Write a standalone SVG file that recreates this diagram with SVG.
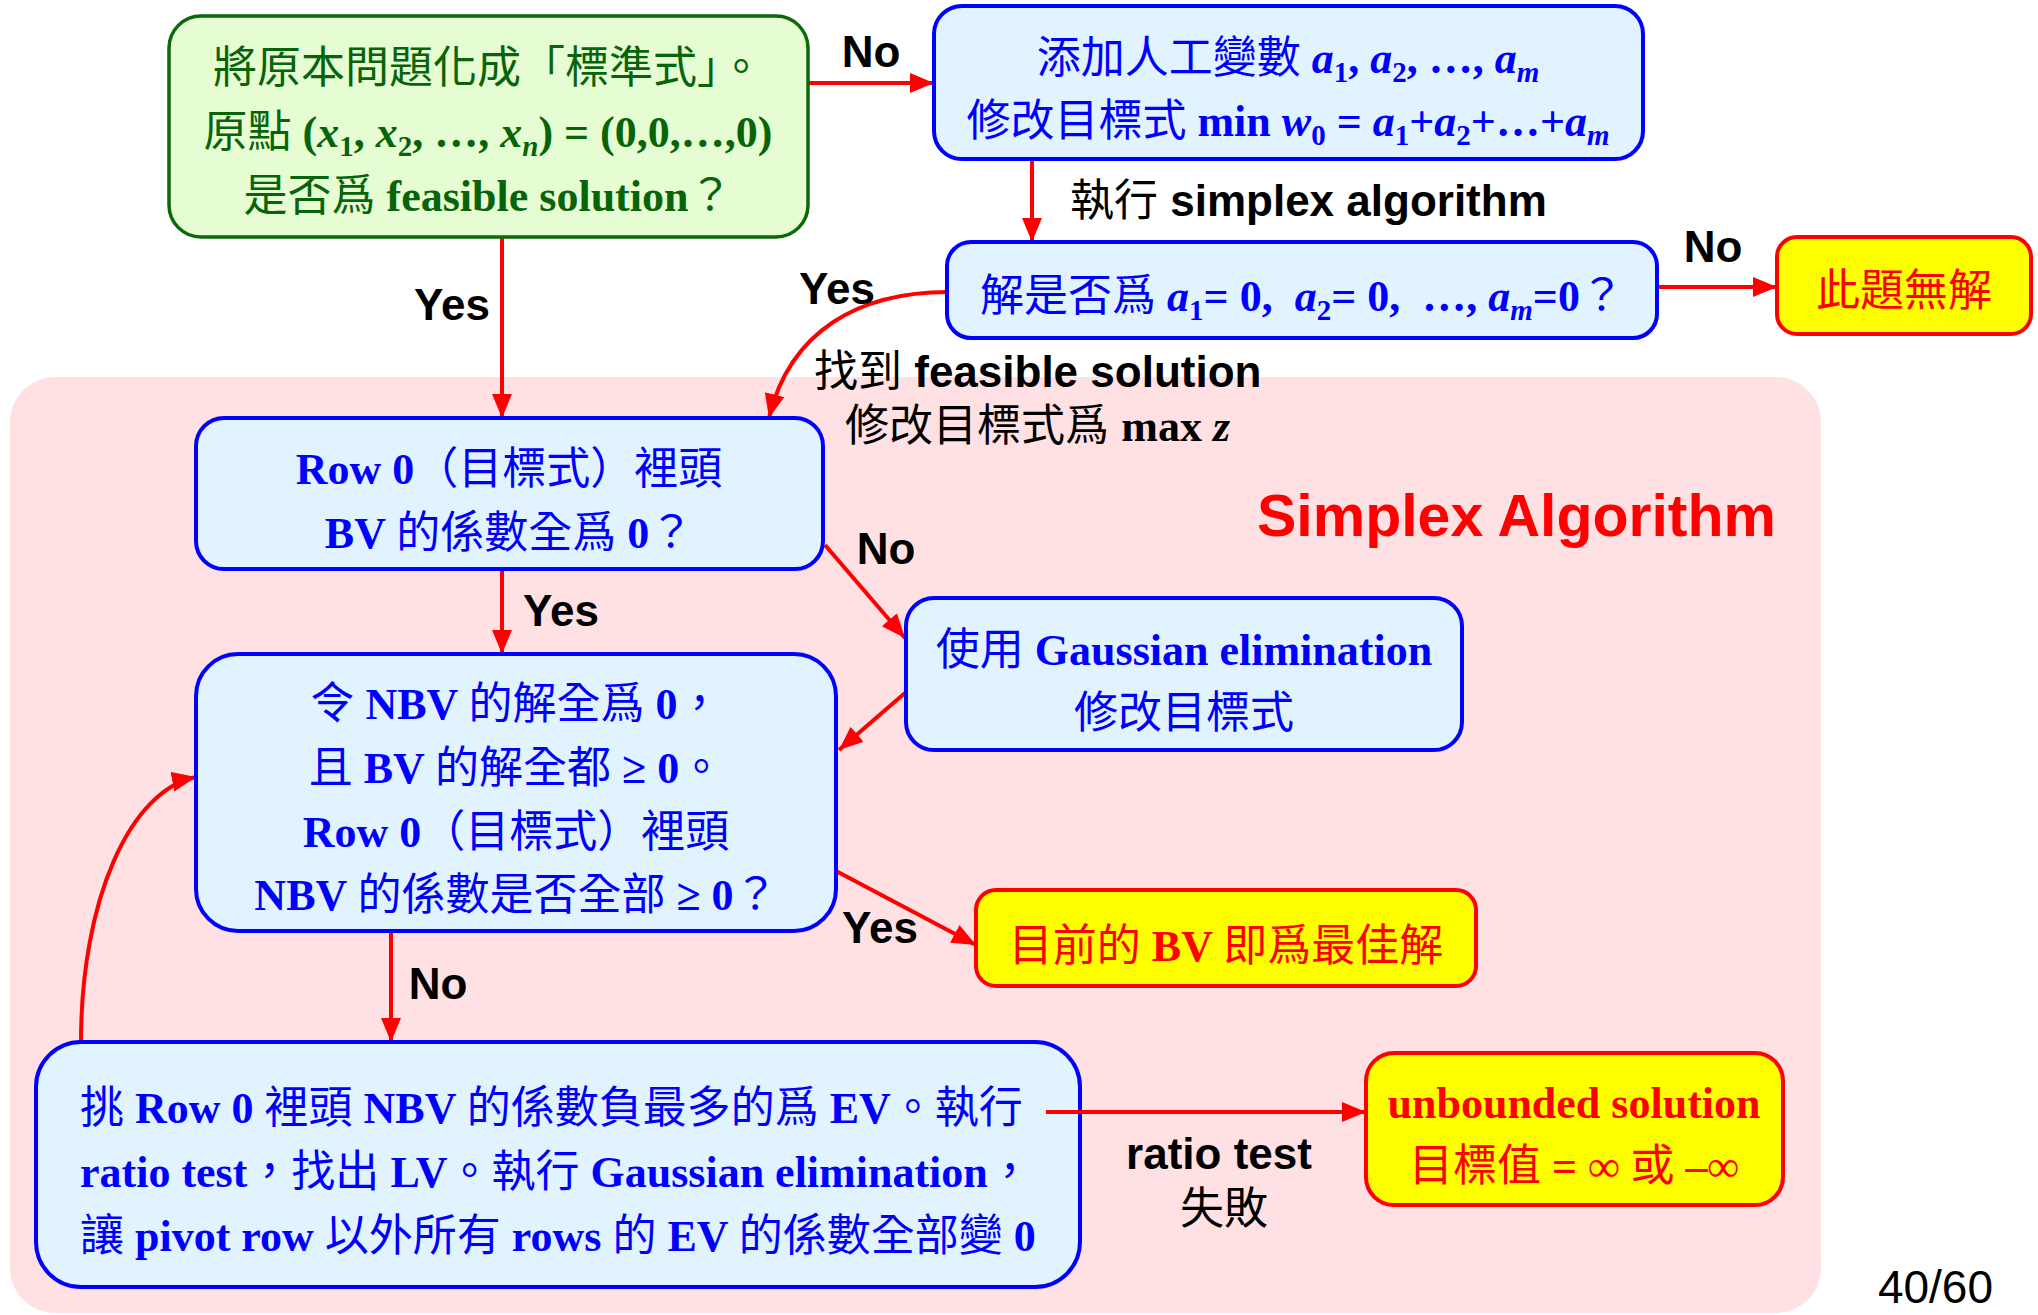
<svg xmlns="http://www.w3.org/2000/svg" width="2038" height="1315" viewBox="0 0 2038 1315">
<style>
  .bg { fill: #ffe1e4; }
  .gbox { fill: #e6fcd2; stroke: #0a6a0a; stroke-width: 3.5; }
  .bbox { fill: #e1f3ff; stroke: #0000ff; stroke-width: 4; }
  .ybox { fill: #ffff00; stroke: #ff0000; stroke-width: 4; }
  .t { font-family: "Liberation Serif", "Noto Sans CJK TC", serif; font-weight: bold; font-size: 44px; text-anchor: middle; }
  .tl { font-family: "Liberation Serif", "Noto Sans CJK TC", serif; font-weight: bold; font-size: 44px; }
  .green { fill: #086408; }
  .blue { fill: #0000ff; }
  .red { fill: #ff0000; }
  .c { font-family: "Noto Sans CJK TC", "Noto Sans CJK SC", sans-serif; font-weight: normal; }
  .i { font-style: italic; }
  .sub { font-size: 29px; }
  .lbl { font-family: "Liberation Sans", "Noto Sans CJK TC", sans-serif; font-weight: bold; font-size: 44px; fill: #000; }
  .lc { font-family: "Noto Sans CJK TC", sans-serif; font-weight: normal; }
  .conn path { fill: none; stroke: #ff0000; stroke-width: 4; marker-end: url(#arr); }
</style>
<defs>
  <marker id="arr" markerUnits="userSpaceOnUse" markerWidth="26" markerHeight="22" refX="24" refY="10" orient="auto">
    <path d="M0,0 L24,10 L0,20 z" fill="#ff0000"/>
  </marker>
</defs>
<rect width="2038" height="1315" fill="#ffffff"/>
<rect class="bg" x="10" y="377" width="1811" height="936" rx="45" ry="45"/>

<g id="connectors" class="conn">
  <path d="M808,83 H934"/>
  <path d="M1032,159 V242"/>
  <path d="M1657,287 H1777"/>
  <path d="M502,237 V418"/>
  <path d="M948,292 C860,292 790,330 769,418"/>
  <path d="M502,569 V654"/>
  <path d="M825,545 L905,638"/>
  <path d="M905,693 L839,750"/>
  <path d="M836,871 L976,945"/>
  <path d="M391,931 V1042"/>
  <path d="M81,1042 C81,900 130,790 196,777"/>
</g>

<g id="n_start">
  <rect class="gbox" x="169" y="16" width="639" height="221" rx="32"/>
  <text class="t green" x="488" y="83" font-size="46"><tspan class="c">將原本問題化成「標準式」。</tspan></text>
  <text class="t green" x="488" y="147"><tspan class="c">原點</tspan> (<tspan class="i">x</tspan><tspan class="sub" dy="9">1</tspan><tspan dy="-9">, </tspan><tspan class="i">x</tspan><tspan class="sub" dy="9">2</tspan><tspan dy="-9">, …, </tspan><tspan class="i">x</tspan><tspan class="sub i" dy="9">n</tspan><tspan dy="-9">) = (0,0,…,0)</tspan></text>
  <text class="t green" x="488" y="211"><tspan class="c">是否爲</tspan> feasible solution<tspan class="c">？</tspan></text>
</g>

<g id="n_artificial">
  <rect class="bbox" x="934" y="6" width="709" height="153" rx="28"/>
  <text class="t blue" x="1288" y="73"><tspan class="c">添加人工變數</tspan> <tspan class="i">a</tspan><tspan class="sub" dy="9">1</tspan><tspan dy="-9">, </tspan><tspan class="i">a</tspan><tspan class="sub" dy="9">2</tspan><tspan dy="-9">, …, </tspan><tspan class="i">a</tspan><tspan class="sub i" dy="9">m</tspan></text>
  <text class="t blue" x="1288" y="136"><tspan class="c">修改目標式</tspan> min <tspan class="i">w</tspan><tspan class="sub" dy="9">0</tspan><tspan dy="-9"> = </tspan><tspan class="i">a</tspan><tspan class="sub" dy="9">1</tspan><tspan dy="-9">+</tspan><tspan class="i">a</tspan><tspan class="sub" dy="9">2</tspan><tspan dy="-9">+…+</tspan><tspan class="i">a</tspan><tspan class="sub i" dy="9">m</tspan></text>
</g>

<g id="n_check">
  <rect class="bbox" x="947" y="242" width="710" height="96" rx="24"/>
  <text class="t blue" x="1302" y="311" xml:space="preserve"><tspan class="c">解是否爲</tspan> <tspan class="i">a</tspan><tspan class="sub" dy="9">1</tspan><tspan dy="-9">= 0,  </tspan><tspan class="i">a</tspan><tspan class="sub" dy="9">2</tspan><tspan dy="-9">= 0,  …, </tspan><tspan class="i">a</tspan><tspan class="sub i" dy="9">m</tspan><tspan dy="-9">=0</tspan><tspan class="c">？</tspan></text>
</g>

<g id="n_nosol">
  <rect class="ybox" x="1777" y="237" width="254" height="97" rx="20"/>
  <text class="t red" x="1904" y="306"><tspan class="c">此題無解</tspan></text>
</g>

<g id="n_row0">
  <rect class="bbox" x="196" y="418" width="627" height="151" rx="28"/>
  <text class="t blue" x="509" y="484">Row 0<tspan class="c">（目標式）裡頭</tspan></text>
  <text class="t blue" x="509" y="548">BV <tspan class="c">的係數全爲</tspan> 0<tspan class="c">？</tspan></text>
</g>

<g id="n_gauss">
  <rect class="bbox" x="906" y="598" width="556" height="152" rx="28"/>
  <text class="t blue" x="1184" y="665"><tspan class="c">使用</tspan> Gaussian elimination</text>
  <text class="t blue" x="1184" y="728"><tspan class="c">修改目標式</tspan></text>
</g>

<g id="n_optcheck">
  <rect class="bbox" x="196" y="654" width="640" height="277" rx="42"/>
  <text class="t blue" x="516" y="719"><tspan class="c">令</tspan> NBV <tspan class="c">的解全爲</tspan> 0<tspan class="c">，</tspan></text>
  <text class="t blue" x="516" y="783"><tspan class="c">且</tspan> BV <tspan class="c">的解全都</tspan> ≥ 0<tspan class="c">。</tspan></text>
  <text class="t blue" x="516" y="847">Row 0<tspan class="c">（目標式）裡頭</tspan></text>
  <text class="t blue" x="516" y="910">NBV <tspan class="c">的係數是否全部</tspan> ≥ 0<tspan class="c">？</tspan></text>
</g>

<g id="n_optimal">
  <rect class="ybox" x="976" y="890" width="500" height="96" rx="20"/>
  <text class="t red" x="1226" y="961"><tspan class="c">目前的</tspan> BV <tspan class="c">即爲最佳解</tspan></text>
</g>

<g id="n_pivot">
  <rect class="bbox" x="36" y="1042" width="1044" height="245" rx="45"/>
  <text class="tl blue" x="80" y="1123"><tspan class="c">挑</tspan> Row 0 <tspan class="c">裡頭</tspan> NBV <tspan class="c">的係數負最多的爲</tspan> EV<tspan class="c">。執行</tspan></text>
  <text class="tl blue" x="80" y="1187">ratio test<tspan class="c">，找出</tspan> LV<tspan class="c">。執行</tspan> Gaussian elimination<tspan class="c">，</tspan></text>
  <text class="tl blue" x="80" y="1251"><tspan class="c">讓</tspan> pivot row <tspan class="c">以外所有</tspan> rows <tspan class="c">的</tspan> EV <tspan class="c">的係數全部變</tspan> 0</text>
</g>

<g id="n_unbounded">
  <rect class="ybox" x="1366" y="1053" width="417" height="152" rx="28"/>
  <text class="t red" x="1574" y="1118">unbounded solution</text>
  <text class="t red" x="1574" y="1181"><tspan class="c">目標值</tspan> = ∞ <tspan class="c">或</tspan> –∞</text>
</g>

<g id="connector_top" class="conn">
  <path d="M1046,1112 H1366"/>
</g>

<g id="labels">
  <text class="lbl" x="871" y="67" text-anchor="middle">No</text>
  <text class="lbl" x="452" y="320" text-anchor="middle">Yes</text>
  <text class="lbl" x="837" y="304" text-anchor="middle">Yes</text>
  <text class="lbl" x="1713" y="262" text-anchor="middle">No</text>
  <text class="lbl" x="886" y="564" text-anchor="middle">No</text>
  <text class="lbl" x="561" y="626" text-anchor="middle">Yes</text>
  <text class="lbl" x="880" y="943" text-anchor="middle">Yes</text>
  <text class="lbl" x="438" y="999" text-anchor="middle">No</text>
  <text class="lbl" x="1070" y="216"><tspan class="lc">執行</tspan> simplex algorithm</text>
  <text class="lbl" x="814" y="387"><tspan class="lc">找到</tspan> feasible solution</text>
  <text class="lbl" x="845" y="441"><tspan class="lc">修改目標式爲</tspan> <tspan font-family="Liberation Serif">max <tspan font-style="italic">z</tspan></tspan></text>
  <text class="lbl" x="1219" y="1169" text-anchor="middle">ratio test</text>
  <text class="lbl" x="1224" y="1224" text-anchor="middle"><tspan class="lc">失敗</tspan></text>
  <text x="1776" y="536" text-anchor="end" font-family="Liberation Sans, sans-serif" font-weight="bold" font-size="59" fill="#ff0000">Simplex Algorithm</text>
  <text x="1993" y="1303" text-anchor="end" font-family="Liberation Sans, sans-serif" font-size="46" fill="#000">40/60</text>
</g>
</svg>
